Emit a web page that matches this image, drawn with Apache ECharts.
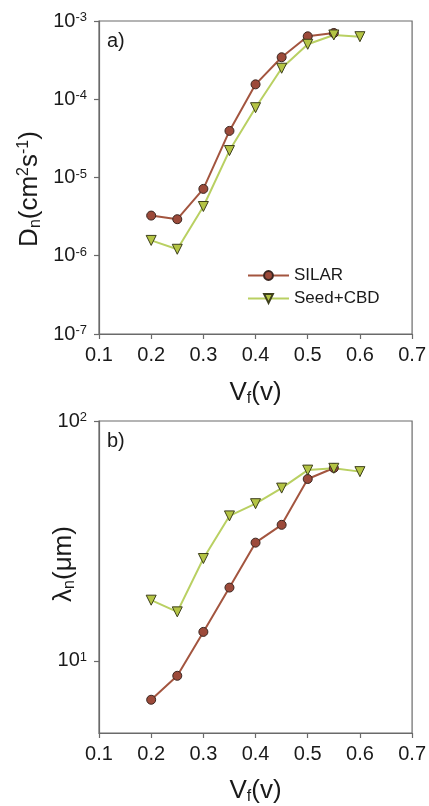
<!DOCTYPE html>
<html><head><meta charset="utf-8">
<script src="https://cdn.jsdelivr.net/npm/echarts@6/dist/echarts.min.js"></script>
<style>html,body{margin:0;padding:0;background:#fff}#c{width:429px;height:806px}</style>
</head><body><div id="c"></div>
<script>
const vf = [0.2, 0.25, 0.3, 0.35, 0.4, 0.45, 0.5, 0.55, 0.6];
const xTicks = ['0.1','0.2','0.3','0.4','0.5','0.6','0.7'];
const dnSilar = [3.26e-6, 2.93e-6, 7.15e-6, 3.94e-5, 1.55e-4, 3.44e-4, 6.37e-4, 7.03e-4];
const dnSeed  = [1.57e-6, 1.21e-6, 4.26e-6, 2.21e-5, 7.8e-5, 2.49e-4, 5.04e-4, 6.63e-4, 6.3e-4];
const lnSilar = [6.88, 8.66, 13.2, 20.2, 31.1, 36.9, 57.3, 63.7];
const lnSeed  = [17.9, 16.0, 26.7, 40.2, 45.2, 52.5, 62.4, 63.5, 61.5];
const seriesNames = ['SILAR', 'Seed+CBD'];

const FONT = 'Liberation Sans, Arial, sans-serif';
const TXT = '#1a1a1a';
const AX = '#6a6a6a';
const C1 = {line:'#a3553f', fill:'#9c4a3a', edge:'#3b2620'};
const C2 = {line:'#b9d062', fill:'#b4c444', edge:'#3d3f1c'};

function pairs(ys){ return ys.map((y,i)=>[vf[i], y]); }

const richTick = {
  b:{fontSize:20, fontFamily:FONT, color:TXT, lineHeight:20},
  s:{fontSize:13, fontFamily:FONT, color:TXT, lineHeight:13, verticalAlign:'top'}
};
const richName = {
  m:{fontSize:26, fontFamily:FONT, color:TXT, lineHeight:28},
  sub:{fontSize:16, fontFamily:FONT, color:TXT, lineHeight:16, verticalAlign:'bottom'},
  sup:{fontSize:16, fontFamily:FONT, color:TXT, lineHeight:16, verticalAlign:'top'}
};

function xAxis(gi, gap){
  return {
    type:'value', gridIndex:gi, min:0.1, max:0.7, interval:0.1,
    axisLine:{show:true, lineStyle:{color:AX, width:1.2}},
    axisTick:{show:true, inside:false, length:5, lineStyle:{color:AX, width:1.2}},
    splitLine:{show:false},
    axisLabel:{margin:11, fontSize:20, fontFamily:FONT, color:TXT,
      formatter:v=>{ const i=Math.round((v-0.1)/0.1); return xTicks[i] !== undefined ? xTicks[i] : ''; }},
    name:'{m|V}{sub|f}{m|(v)}', nameLocation:'middle', nameGap:gap, nameMoveOverlap:false,
    nameTextStyle:{rich:richName}
  };
}

const option = {
  animation:false,
  backgroundColor:'#fff',
  grid:[
    {left:99, right:16, top:21, height:313, show:true, borderColor:AX, borderWidth:1.2, backgroundColor:'transparent'},
    {left:99, right:16, top:421, height:313, show:true, borderColor:AX, borderWidth:1.2, backgroundColor:'transparent'}
  ],
  xAxis:[ xAxis(0, 45), xAxis(1, 44) ],
  yAxis:[
    {type:'log', gridIndex:0, logBase:10, min:1e-7, max:1e-3,
     axisLine:{show:true, lineStyle:{color:AX, width:1.2}},
     axisTick:{show:true, length:5, lineStyle:{color:AX, width:1.2}},
     minorTick:{show:false}, splitLine:{show:false},
     axisLabel:{margin:12, formatter:v=>'{b|10}{s|'+Math.round(Math.log10(v))+'}', rich:richTick},
     name:'{m|D}{sub|n}{m|(cm}{sup|2}{m|s}{sup|-1}{m|)}', nameLocation:'middle', nameGap:55, nameRotate:90,
     nameMoveOverlap:false,
     nameTextStyle:{rich:richName, padding:[0,23,0,0]}
    },
    {type:'log', gridIndex:1, logBase:10, min:5, max:100,
     axisLine:{show:true, lineStyle:{color:AX, width:1.2}},
     axisTick:{show:true, length:5, customValues:[10,100], lineStyle:{color:AX, width:1.2}},
     minorTick:{show:false}, splitLine:{show:false},
     axisLabel:{margin:12, customValues:[10,100], formatter:v=>'{b|10}{s|'+Math.round(Math.log10(v))+'}', rich:richTick},
     name:'{m|λ}{sub|n}{m|(μm)}', nameLocation:'middle', nameGap:21, nameRotate:90,
     nameMoveOverlap:false,
     nameTextStyle:{rich:richName, padding:[0,0,0,26]}
    }
  ],
  legend:{
    orient:'vertical', left:242, top:262, itemGap:6, itemWidth:41, itemHeight:11,
    data:seriesNames,
    textStyle:{fontSize:17, fontFamily:FONT, color:TXT}
  },
  graphic:[
    {type:'text', left:107, top:31, style:{text:'a)', font:'20px '+FONT, fill:TXT}},
    {type:'text', left:107, top:431, style:{text:'b)', font:'20px '+FONT, fill:TXT}}
  ],
  series:[
    {name:seriesNames[0], type:'line', xAxisIndex:0, yAxisIndex:0, data:pairs(dnSilar),
     symbol:'circle', symbolSize:9, lineStyle:{color:C1.line, width:2},
     itemStyle:{color:C1.fill, borderColor:C1.edge, borderWidth:1}},
    {name:seriesNames[1], type:'line', xAxisIndex:0, yAxisIndex:0, data:pairs(dnSeed),
     symbol:'triangle', symbolRotate:180, symbolSize:10, lineStyle:{color:C2.line, width:2},
     itemStyle:{color:C2.fill, borderColor:C2.edge, borderWidth:1}},
    {name:seriesNames[0], type:'line', xAxisIndex:1, yAxisIndex:1, data:pairs(lnSilar),
     symbol:'circle', symbolSize:9, lineStyle:{color:C1.line, width:2},
     itemStyle:{color:C1.fill, borderColor:C1.edge, borderWidth:1}},
    {name:seriesNames[1], type:'line', xAxisIndex:1, yAxisIndex:1, data:pairs(lnSeed),
     symbol:'triangle', symbolRotate:180, symbolSize:10, lineStyle:{color:C2.line, width:2},
     itemStyle:{color:C2.fill, borderColor:C2.edge, borderWidth:1}}
  ]
};
const chart = echarts.init(document.getElementById('c'), null, {renderer:'canvas'});
chart.setOption(option);
</script></body></html>
